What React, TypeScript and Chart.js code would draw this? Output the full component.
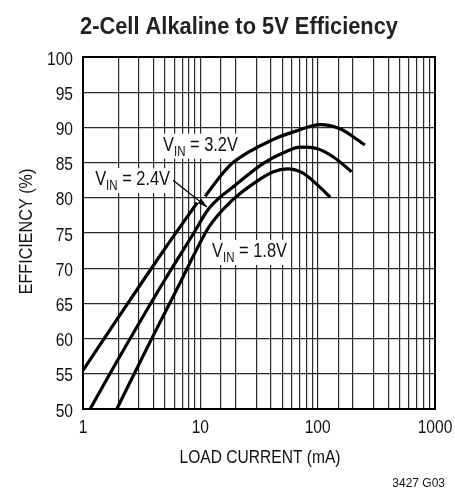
import React, { useEffect, useRef } from 'react';
import { Chart, registerables } from 'chart.js';

Chart.register(...registerables);

const FONT = "'Liberation Sans', Arial, Helvetica, sans-serif";
const NARROW = 0.82;

const TITLE = '2-Cell Alkaline to 5V Efficiency';
const X_TITLE = 'LOAD CURRENT (mA)';
const Y_TITLE = 'EFFICIENCY (%)';
const FOOTNOTE = '3427 G03';

const X_MIN = 1;
const X_MAX = 1000;
const Y_MIN = 50;
const Y_MAX = 100;
const Y_STEP = 5;
const xTickLabels = [1, 10, 100, 1000];
const yTickLabels = [50, 55, 60, 65, 70, 75, 80, 85, 90, 95, 100];

// V_IN = 3.2V (null = gap where the arrow passes)
const current32 = [1, 2, 5, 9.4, 10.2, 11, 14.7, 19, 42, 66, 105, 155, 253];
const eff32 = [55.5, 63.0, 72.8, 79.3, null, 80.2, 83.0, 85.0, 88.3, 89.5, 90.4, 89.8, 87.5];

// V_IN = 2.4V
const current24 = [1.15, 2, 5, 8.8, 11.5, 14.5, 17.9, 34.4, 51, 71, 98, 136, 195];
const eff24 = [50, 57.1, 68.4, 75, 78.2, 80.0, 81.2, 84.9, 86.4, 87.2, 87.0, 85.8, 83.7];

// V_IN = 1.8V
const current18 = [1.94, 3.85, 6.9, 9, 12, 18, 30, 42, 55, 75, 100, 128];
const eff18 = [50, 60, 68.3, 72.2, 76.0, 79.4, 82.3, 83.7, 84.1, 83.5, 81.8, 80.1];

// curve labels (left edge current, baseline efficiency)
const labelVoltages = ['3.2V', '2.4V', '1.8V'];
const labelCurrent = [4.81, 1.27, 12.6];
const labelEff = [86.7, 81.8, 71.6];
const arrowFrom = { x: 5.85, y: 82.5 };
const arrowTo = { x: 11.4, y: 78.7 };

function toPoints(xs: number[], ys: (number | null)[]) {
  return xs.map((x, i) => ({ x, y: ys[i] }));
}

function isDecade(v: number) {
  const l = Math.log10(v);
  return Math.abs(l - Math.round(l)) < 1e-6;
}

function textWidth(ctx: CanvasRenderingContext2D, text: string, size: number, bold = false, sx = NARROW) {
  ctx.font = `${bold ? 'bold ' : ''}${size}px ${FONT}`;
  return ctx.measureText(text).width * sx;
}

function drawText(
  ctx: CanvasRenderingContext2D,
  text: string,
  x: number,
  y: number,
  size: number,
  align: 'left' | 'center' | 'right' = 'left',
  bold = false,
  sx = NARROW,
) {
  const w = textWidth(ctx, text, size, bold, sx);
  const left = align === 'left' ? x : align === 'center' ? x - w / 2 : x - w;
  ctx.save();
  ctx.translate(left, y);
  ctx.scale(sx, 1);
  ctx.textAlign = 'left';
  ctx.textBaseline = 'alphabetic';
  ctx.fillText(text, 0, 0);
  ctx.restore();
  return w;
}

const LABEL_SIZE = 20;
const SUB_SIZE = 14;

function labelWidth(ctx: CanvasRenderingContext2D, volt: string) {
  return (
    textWidth(ctx, 'V', LABEL_SIZE) + textWidth(ctx, 'IN', SUB_SIZE) + textWidth(ctx, ' = ' + volt, LABEL_SIZE)
  );
}

const annotPlugin = {
  id: 'annot',
  beforeDatasetsDraw(chart: any) {
    const ctx: CanvasRenderingContext2D = chart.ctx;
    const xs = chart.scales.x;
    const ys = chart.scales.y;
    ctx.save();
    labelVoltages.forEach((v, i) => {
      const w = labelWidth(ctx, v);
      const px = xs.getPixelForValue(labelCurrent[i]);
      const py = ys.getPixelForValue(labelEff[i]);
      ctx.fillStyle = '#fff';
      ctx.fillRect(px - 4, py - 17, w + 8, 25);
    });
    const a = chart.chartArea;
    ctx.strokeStyle = '#000';
    ctx.lineWidth = 2;
    ctx.strokeRect(a.left, a.top, a.right - a.left, a.bottom - a.top);
    ctx.restore();
  },
  afterDatasetsDraw(chart: any) {
    const ctx: CanvasRenderingContext2D = chart.ctx;
    const xs = chart.scales.x;
    const ys = chart.scales.y;
    const a = chart.chartArea;
    ctx.save();
    ctx.fillStyle = '#111';
    // curve labels
    labelVoltages.forEach((v, i) => {
      const px = xs.getPixelForValue(labelCurrent[i]);
      const py = ys.getPixelForValue(labelEff[i]);
      let cx = px;
      cx += drawText(ctx, 'V', cx, py, LABEL_SIZE);
      cx += drawText(ctx, 'IN', cx, py + 5, SUB_SIZE);
      drawText(ctx, ' = ' + v, cx, py, LABEL_SIZE);
    });
    // arrow
    const x0 = xs.getPixelForValue(arrowFrom.x);
    const y0 = ys.getPixelForValue(arrowFrom.y);
    const x1 = xs.getPixelForValue(arrowTo.x);
    const y1 = ys.getPixelForValue(arrowTo.y);
    ctx.strokeStyle = '#000';
    ctx.lineWidth = 1.2;
    ctx.beginPath();
    ctx.moveTo(x0, y0);
    ctx.lineTo(x1, y1);
    ctx.stroke();
    const ang = Math.atan2(y1 - y0, x1 - x0);
    const hl = 10;
    ctx.beginPath();
    ctx.moveTo(x1, y1);
    ctx.lineTo(x1 - hl * Math.cos(ang - 0.3), y1 - hl * Math.sin(ang - 0.3));
    ctx.lineTo(x1 - hl * Math.cos(ang + 0.3), y1 - hl * Math.sin(ang + 0.3));
    ctx.closePath();
    ctx.fillStyle = '#000';
    ctx.fill();

    ctx.fillStyle = '#111';
    // y tick labels
    yTickLabels.forEach((v) => {
      drawText(ctx, String(v), a.left - 10, ys.getPixelForValue(v) + 7.5, 19, 'right');
    });
    // x tick labels
    xTickLabels.forEach((v) => {
      drawText(ctx, String(v), xs.getPixelForValue(v), a.bottom + 24, 19, 'center');
    });

    // title
    ctx.fillStyle = '#222';
    ctx.font = `bold 24px ${FONT}`;
    const tw = ctx.measureText(TITLE).width;
    drawText(ctx, TITLE, 239, 34, 24, 'center', true, 318 / tw);
    // x title
    ctx.fillStyle = '#111';
    drawText(ctx, X_TITLE, 260, 463, 19, 'center');
    // y title
    ctx.save();
    ctx.translate(32, 231.5);
    ctx.rotate(-Math.PI / 2);
    drawText(ctx, Y_TITLE, 0, 0, 19, 'center', false, 0.85);
    ctx.restore();
    // footnote
    drawText(ctx, FOOTNOTE, 445, 487, 12, 'right', false, 1);
    ctx.restore();
  },
};

export default function App() {
  const ref = useRef<HTMLCanvasElement>(null);
  useEffect(() => {
    const canvas = ref.current!;
    const gridColor = '#2a2a2a';
    const chart = new Chart(canvas, {
      type: 'line',
      data: {
        datasets: [
          { label: '3.2V', data: toPoints(current32, eff32) as any },
          { label: '2.4V', data: toPoints(current24, eff24) as any },
          { label: '1.8V', data: toPoints(current18, eff18) as any },
        ],
      },
      options: {
        animation: false,
        responsive: false,
        devicePixelRatio: 1,
        spanGaps: false,
        layout: { padding: { top: 57, right: 20, left: 0, bottom: 0 } },
        plugins: {
          legend: { display: false },
          tooltip: { enabled: false },
          title: { display: false },
        },
        elements: {
          point: { radius: 0 },
          line: {
            borderWidth: 3.2,
            borderColor: '#000',
            cubicInterpolationMode: 'monotone',
            fill: false,
          },
        },
        scales: {
          x: {
            type: 'logarithmic',
            min: X_MIN,
            max: X_MAX,
            afterFit: (s: any) => {
              s.height = 79;
            },
            grid: { color: gridColor, lineWidth: 1.2, drawTicks: false },
            border: { display: false },
            ticks: {
              display: false,
              autoSkip: false,
              callback: (v: any) => (isDecade(Number(v)) ? String(Math.round(Number(v))) : ''),
            },
          },
          y: {
            type: 'linear',
            min: Y_MIN,
            max: Y_MAX,
            afterFit: (s: any) => {
              s.width = 83;
            },
            grid: { color: gridColor, lineWidth: 1.2, drawTicks: false },
            border: { display: false },
            ticks: { display: false, stepSize: Y_STEP },
          },
        },
      } as any,
      plugins: [annotPlugin],
    });
    return () => chart.destroy();
  }, []);
  return (
    <div style={{ position: 'fixed', left: 0, top: 0, width: 455, height: 488, background: '#fff' }}>
      <canvas ref={ref} width={455} height={488} style={{ width: 455, height: 488 }} />
    </div>
  );
}
